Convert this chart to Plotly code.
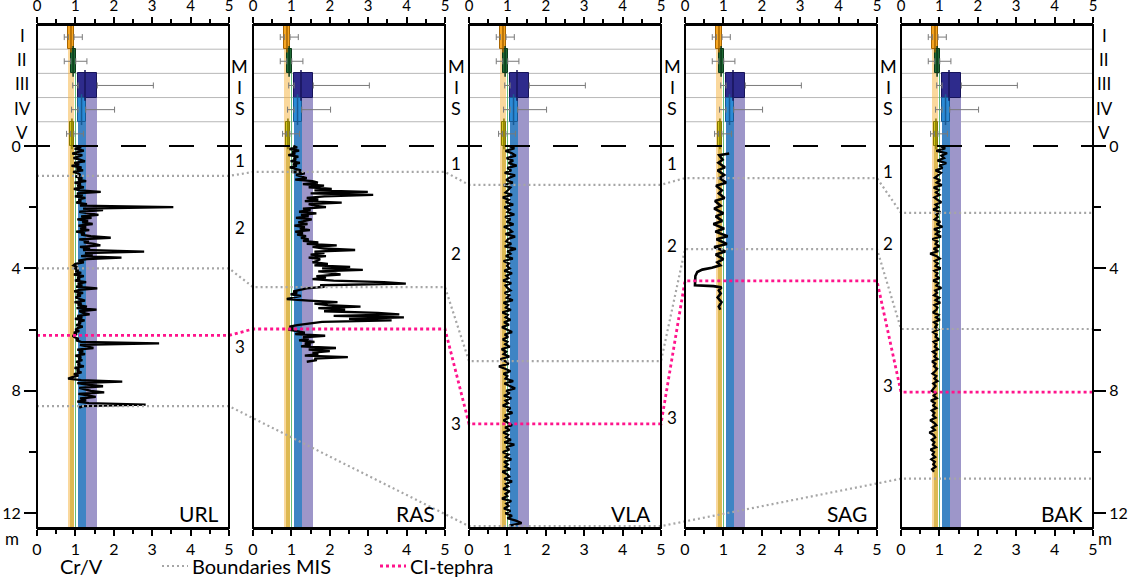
import numpy as np
import plotly.graph_objects as go

# ---------------- data ----------------
sites = ['URL', 'RAS', 'VLA', 'SAG', 'BAK']
groups = ['I', 'II', 'III', 'IV', 'V']

# Cr/V summary of the reference groups (box rows on top)
grp_q1 = [0.815, 0.88, 1.07, 1.07, 0.87]
grp_med = [0.885, 0.94, 1.25, 1.16, 0.91]
grp_q3 = [0.965, 1.01, 1.57, 1.27, 0.96]
grp_min = [0.71, 0.71, 0.93, 0.90, 0.77]
grp_max = [1.18, 1.30, 3.03, 2.02, 1.21]

# Cr/V profiles (regular sampling from 0 m)
url_step = 0.05
url_crv = [1.02, 1.15, 0.98, 1.22, 1.05, 0.92, 1.18, 1.08, 0.95, 1.12,
           1.25, 0.97, 1.10, 0.90, 1.16, 1.03, 1.20, 0.94, 1.08, 1.13,
           1.00, 1.18, 1.07, 1.28, 0.98, 1.14, 1.05, 1.22, 0.96, 1.11,
           1.66, 1.04, 1.19, 0.99, 1.26, 1.08, 1.15, 1.02, 1.30, 1.12,
           3.55, 1.20, 1.72, 1.10, 1.38, 1.60, 1.15, 1.42, 1.05, 1.33,
           1.18, 1.45, 1.08, 1.28, 1.12, 1.36, 1.02, 1.24, 1.15, 1.40,
           1.92, 1.10, 1.35, 1.22, 1.48, 1.65, 1.12, 1.38, 1.20, 2.79,
           1.25, 1.45, 1.15, 2.20, 1.30, 1.08, 1.22, 1.00, 0.95, 1.05,
           0.98, 1.08, 1.00, 1.15, 0.96, 1.22, 1.05, 1.12, 0.99, 1.28,
           1.06, 1.18, 1.02, 1.57, 1.10, 0.97, 1.20, 1.04, 1.14, 1.00,
           1.12, 1.25, 0.98, 1.16, 1.06, 1.30, 1.03, 1.55, 1.10, 1.20,
           1.37, 1.05, 1.18, 0.99, 1.24, 1.08, 1.14, 1.02, 1.19, 1.06,
           1.00, 1.10, 0.96, 1.04, 0.93, 0.98, 1.08, 1.02, 1.15, 3.18,
           1.12, 1.28, 1.47, 1.05, 1.20, 1.10, 1.25, 1.00, 1.15, 1.08,
           1.18, 1.02, 1.12, 1.06, 1.22, 0.98, 1.10, 1.04, 1.16, 0.96,
           1.08, 0.92, 0.81, 1.15, 2.22, 1.05, 1.30, 1.72, 1.10, 1.25,
           1.40, 1.75, 1.08, 1.32, 1.53, 1.12, 1.28, 1.05, 1.35, 2.83,
           1.20, 1.10]

ras_step = 0.05
ras_crv = [1.05, 1.15, 0.95, 1.20, 1.02, 1.10, 0.92, 1.18, 1.06, 1.12,
           0.98, 1.22, 1.04, 1.14, 0.96, 1.08, 1.25, 1.00, 1.35, 1.12,
           1.28, 1.40, 1.10, 1.55, 1.69, 1.30, 1.85, 1.45, 2.05, 1.60,
           2.99, 1.50, 3.13, 1.86, 1.40, 1.70, 1.35, 2.31, 1.45, 1.60,
           1.90, 1.30, 1.50, 1.20, 1.65, 1.25, 1.45, 1.12, 1.53, 1.30,
           1.18, 1.42, 1.08, 1.35, 1.22, 1.48, 1.10, 1.30, 1.15, 1.38,
           1.25, 1.45, 1.30, 1.70, 1.40, 2.18, 1.55, 1.85, 2.66, 1.60,
           1.86, 1.50, 1.90, 1.45, 1.75, 1.67, 1.55, 1.95, 1.60, 2.53,
           1.80, 2.86, 1.70, 2.05, 2.28, 1.65, 1.90, 1.55, 2.10, 3.41,
           3.98, 1.75, 1.86, 1.40, 1.20, 1.05, 1.15, 0.98, 1.25, 1.10,
           0.88, 1.45, 2.20, 1.60, 1.95, 2.80, 1.70, 2.40, 1.85, 3.25,
           3.81, 2.10, 3.93, 2.50, 3.61, 1.80, 1.40, 1.15, 0.95, 1.05,
           0.92, 1.20, 1.35, 1.10, 1.88, 1.30, 1.45, 1.20, 1.60, 1.35,
           1.50, 1.25, 2.16, 1.45, 2.00, 1.55, 1.70, 1.35, 2.47, 1.60,
           1.66, 1.40]

vla_step = 0.08
vla_crv = [1.05, 1.18, 0.95, 1.12, 1.22, 0.98, 1.15, 1.03, 1.24, 1.00,
           1.10, 0.93, 1.20, 1.05, 0.97, 1.14, 0.90, 1.08, 1.02, 0.95,
           1.12, 0.88, 1.04, 0.96, 1.15, 0.92, 1.06, 1.00, 1.18, 0.94,
           1.08, 0.98, 1.16, 0.91, 1.05, 1.12, 0.95, 1.20, 1.02, 0.97,
           1.10, 0.93, 1.22, 1.00, 1.08, 0.96, 1.14, 0.90, 1.04, 0.99,
           1.06, 0.92, 1.12, 0.97, 1.03, 0.89, 1.10, 0.95, 1.00, 1.08,
           0.93, 1.05, 0.98, 1.14, 0.90, 1.02, 0.96, 1.09, 0.87, 1.01,
           0.95, 1.08, 0.91, 1.04, 0.86, 0.99, 1.12, 0.93, 1.02, 0.88,
           1.00, 0.94, 1.06, 0.85, 0.97, 0.90, 1.05, 0.82, 0.96, 1.03,
           0.78, 0.94, 1.08, 0.90, 1.00, 0.95, 1.15, 0.92, 1.04, 1.20,
           0.97, 1.06, 0.91, 1.10, 0.95, 1.02, 0.88, 1.08, 0.99, 1.13,
           0.93, 1.04, 0.90, 1.00, 1.12, 0.94, 1.06, 0.89, 1.02, 0.96,
           1.09, 0.92, 1.18, 0.97, 1.05, 0.88, 1.03, 0.95, 1.10, 0.91,
           1.01, 0.94, 1.08, 0.87, 0.99, 1.05, 0.92, 1.12, 0.96, 1.02,
           0.89, 1.06, 0.95, 1.00, 0.86, 1.10, 0.97, 1.03, 0.91, 1.08,
           0.95, 1.12, 1.00, 1.22, 1.37, 1.05]

bak_step = 0.08
bak_crv = [1.02, 1.15, 0.92, 1.20, 1.05, 1.12, 0.95, 1.18, 1.00, 1.08,
           0.90, 1.04, 0.96, 0.88, 1.02, 0.93, 1.06, 0.85, 0.98, 0.91,
           1.00, 0.87, 0.95, 1.05, 0.90, 0.97, 0.84, 1.03, 0.92, 0.96,
           0.88, 1.02, 0.93, 1.08, 0.86, 0.99, 0.91, 1.04, 0.82, 0.95,
           0.90, 1.00, 0.85, 0.97, 0.76, 0.93, 1.01, 0.88, 0.96, 0.90,
           1.03, 0.87, 0.95, 0.91, 1.00, 0.84, 0.97, 0.92, 1.05, 0.89,
           0.94, 0.86, 0.99, 0.90, 1.02, 0.87, 0.95, 0.92, 0.83, 0.98,
           0.91, 1.01, 0.86, 0.94, 0.89, 0.97, 0.84, 0.93, 0.90, 0.99,
           0.85, 0.92, 0.88, 0.96, 0.83, 0.91, 0.87, 0.95, 0.81, 0.90,
           0.86, 0.94, 0.89, 0.82, 0.92, 0.87, 0.95, 0.84, 0.90, 0.86,
           0.80, 0.91, 0.85, 0.93, 0.78, 0.88, 0.84, 0.92, 0.80, 0.87,
           0.83, 0.90, 0.76, 0.86, 0.92, 0.81, 0.88, 0.74, 0.85, 0.89,
           0.80, 0.87, 0.83, 0.91, 0.77, 0.86, 0.82, 0.89, 0.79, 0.88,
           0.84, 0.90, 0.81, 0.86]

# SAG is sampled irregularly
sag_depth = [0.25, 0.30, 0.45, 0.55, 0.70, 0.80, 0.95, 1.05, 1.20, 1.30,
             1.45, 1.55, 1.70, 1.80, 1.95, 2.05, 2.20, 2.30, 2.45, 2.55,
             2.70, 2.80, 2.95, 3.05, 3.20, 3.30, 3.45, 3.55, 3.70, 3.80,
             3.90, 3.98, 4.04, 4.12, 4.25, 4.40, 4.55, 4.58, 4.62, 4.72,
             4.82, 4.95, 5.10, 5.25, 5.35]
sag_crv = [1.15, 0.89, 0.98, 0.87, 1.04, 0.85, 1.02, 0.90, 1.07, 0.81,
           0.96, 0.88, 1.03, 0.78, 0.93, 0.76, 1.00, 0.80, 0.97, 0.74,
           1.02, 0.79, 1.11, 0.82, 1.09, 0.76, 1.05, 0.80, 1.00, 0.84,
           0.92, 0.70, 0.45, 0.32, 0.27, 0.26, 0.26, 0.74, 0.95, 0.88,
           0.93, 0.85, 0.95, 0.88, 0.92]

# boundaries per site (m), None = not reached
mis_12 = [0.98, 0.85, 1.27, 1.05, 2.19]
mis_23 = [4.00, 4.61, 7.03, 3.37, 5.98]
mis_34 = [8.50, None, 12.42, None, 10.87]
ci_tephra = [6.19, 5.98, 9.08, 4.41, 8.04]

# MIS stage numbers written in the gap right of each site
mis_names = ['1', '2', '3']
mis_lab_depth = [[0.49, 2.65, 6.54], [0.56, 3.50, 9.08],
                 [0.59, 3.24, 8.86], [0.85, 3.20, 7.84]]

# ---------------- geometry / style ----------------
W, H = 1128, 578
SL, SR, ST, SB = 20, 1113, 25, 528       # plot area in page pixels
ML, MR, MT, MB = SL, W - SR, ST, H - SB
PW, PH = SR - SL, SB - ST
P0, PANEL, GAP = 37, 192, 24              # first panel left, panel width, gap
UNIT = PANEL / 5.0                        # px per Cr/V unit
Y_TOP, Y_BOT = -3.95, 12.48
FONT = 'Lato'

def px_x(p):
    return (p - SL) / PW

def px_y(p):
    return (SB - p) / PH

def label(text, x, y, size, xref='paper', yref='y', xanchor='center'):
    return dict(text=text, x=x, y=y, xref=xref, yref=yref, xanchor=xanchor,
                yanchor='middle', showarrow=False, font=dict(size=size, color='black'))

row_h = -Y_TOP / len(groups)
row_c = [Y_TOP + row_h * (i + 0.5) for i in range(len(groups))]
row_end = [Y_TOP + row_h * (i + 1) for i in range(len(groups))]

box_fill = ['#f6a623', '#1f6b35', '#2e2b8c', '#2b8ad6', '#d2c41c']
box_line = ['#a86500', '#0d3a1b', '#17145a', '#185a94', '#857800']
band_col = ['rgba(245,178,60,0.5)', 'rgba(70,175,95,0.85)', '#9d96c9',
            '#3e84c4', 'rgba(196,158,20,0.55)']

profiles = [
    (np.arange(len(url_crv)) * url_step, url_crv),
    (np.arange(len(ras_crv)) * ras_step, ras_crv),
    (np.arange(len(vla_crv)) * vla_step, vla_crv),
    (np.array(sag_depth), sag_crv),
    (np.arange(len(bak_crv)) * bak_step, bak_crv),
]

fig = go.Figure()
shapes = []
annotations = []
layout = {}

for k, site in enumerate(sites):
    xa = 'x' if k == 0 else 'x%d' % (k + 1)
    # vertical bands continuing the group IQRs downwards
    for g in [0, 4, 1, 2, 3]:
        if g == 1:
            base, length = grp_q3[g] - 0.025, 0.025
        else:
            base, length = grp_q1[g], grp_q3[g] - grp_q1[g]
        fig.add_trace(go.Bar(orientation='h', base=[base], x=[length],
                             y=[(row_end[g] + Y_BOT) / 2], width=[Y_BOT - row_end[g]],
                             marker=dict(color=band_col[g], line_width=0),
                             xaxis=xa, yaxis='y', showlegend=False, hoverinfo='skip'))
    # boxes
    fig.add_trace(go.Bar(orientation='h', base=grp_q1,
                         x=[b - a for a, b in zip(grp_q1, grp_q3)], y=row_c, width=row_h,
                         marker=dict(color=box_fill, line=dict(color=box_line, width=1)),
                         xaxis=xa, yaxis='y', showlegend=False, hoverinfo='skip'))
    # whiskers
    fig.add_trace(go.Scatter(x=grp_q1, y=row_c, mode='markers', marker=dict(opacity=0),
                             error_x=dict(type='data', symmetric=False, array=[0] * 5,
                                          arrayminus=[a - m for a, m in zip(grp_q1, grp_min)],
                                          color='#7a7a7a', thickness=1, width=3),
                             xaxis=xa, yaxis='y', showlegend=False, hoverinfo='skip'))
    fig.add_trace(go.Scatter(x=grp_q3, y=row_c, mode='markers', marker=dict(opacity=0),
                             error_x=dict(type='data', symmetric=False, arrayminus=[0] * 5,
                                          array=[m - b for b, m in zip(grp_q3, grp_max)],
                                          color='#7a7a7a', thickness=1, width=3),
                             xaxis=xa, yaxis='y', showlegend=False, hoverinfo='skip'))
    # medians
    fig.add_trace(go.Scatter(x=grp_med, y=row_c, mode='markers',
                             marker=dict(symbol='line-ns', size=22,
                                         line=dict(color=box_line, width=1.5)),
                             xaxis=xa, yaxis='y', showlegend=False, hoverinfo='skip'))
    # Cr/V profile
    d, v = profiles[k]
    fig.add_trace(go.Scatter(x=v, y=d, mode='lines',
                             line=dict(color='black', width=2.6 if site == 'SAG' else 2.3),
                             xaxis=xa, yaxis='y', showlegend=False))
    # empty trace for the top axis
    fig.add_trace(go.Scatter(x=[None], y=[None], xaxis='x%d' % (k + 6), yaxis='y',
                             showlegend=False, hoverinfo='skip'))

    left = P0 + k * (PANEL + GAP)
    common = dict(range=[0, 5], tick0=0, dtick=1, ticks='outside', ticklen=6,
                  tickwidth=1.5, tickcolor='black',
                  minor=dict(dtick=0.5, ticks='outside', ticklen=4, tickwidth=1.5,
                             tickcolor='black'),
                  showline=True, linecolor='black', linewidth=2, showgrid=False,
                  zeroline=False, fixedrange=True, automargin=False)
    layout['xaxis' if k == 0 else 'xaxis%d' % (k + 1)] = dict(
        domain=[px_x(left), px_x(left + PANEL)], anchor='y', side='bottom',
        tickfont=dict(size=16, color='black'), **common)
    layout['xaxis%d' % (k + 6)] = dict(overlaying=xa, anchor='y', side='top',
                                       tickfont=dict(size=15, color='black'), **common)

    # frame and group separators
    shapes.append(dict(type='rect', xref=xa + ' domain', yref='y domain', x0=0, x1=1,
                       y0=0, y1=1, line=dict(color='black', width=2), layer='above'))
    for yy in row_end[:-1]:
        shapes.append(dict(type='line', xref=xa + ' domain', yref='y', x0=0, x1=1,
                           y0=yy, y1=yy, line=dict(color='#b8b8b8', width=1), layer='below'))
    annotations.append(label(site, 0.96, 12.02, 21, xref=xa + ' domain', xanchor='right'))
    if k < 4:
        gx = px_x(left + PANEL + 11)
        for t, yy in zip(['M', 'I', 'S'], [-2.62, -1.94, -1.25]):
            annotations.append(label(t, gx, yy, 18))
        for t, yy in zip(mis_names, mis_lab_depth[k]):
            annotations.append(label(t, gx, yy, 17))

# whole-width helper axis (Cr/V units of the first panel)
step = (PANEL + GAP) / UNIT
gx0, gx1 = (SL - P0) / UNIT, (SR - P0) / UNIT
layout['xaxis11'] = dict(domain=[0, 1], range=[gx0, gx1], anchor='y', visible=False,
                         fixedrange=True, automargin=False)


def polyline(depths):
    xs, ys = [], []
    for k, dd in enumerate(depths):
        if dd is None:
            continue
        xs += [k * step, k * step + 5]
        ys += [dd, dd]
    return xs, ys


for b in [mis_12, mis_23, mis_34]:
    xs, ys = polyline(b)
    fig.add_trace(go.Scatter(x=xs, y=ys, mode='lines', xaxis='x11', yaxis='y',
                             line=dict(color='#a6a6a6', width=2.2, dash='2px,3px'),
                             showlegend=False, hoverinfo='skip'))
xs, ys = polyline(ci_tephra)
fig.add_trace(go.Scatter(x=xs, y=ys, mode='lines', xaxis='x11', yaxis='y',
                         line=dict(color='#ff148c', width=2.8, dash='3px,3px'),
                         showlegend=False, hoverinfo='skip'))
# top of the profiles (0 m)
fig.add_trace(go.Scatter(x=[(25 - P0) / UNIT, (1110 - P0) / UNIT], y=[0, 0], mode='lines',
                         xaxis='x11', yaxis='y',
                         line=dict(color='black', width=2, dash='25px,23px'),
                         showlegend=False, hoverinfo='skip'))

# depth axes
yax = dict(range=[Y_BOT, Y_TOP], tickmode='array', tickvals=[0, 4, 8, 12],
           ticks='outside', ticklen=12, tickwidth=1.5, tickcolor='black',
           minor=dict(tickmode='array', tickvals=[2, 6, 10], ticks='outside', ticklen=7,
                      tickwidth=1.5, tickcolor='black'),
           showline=False, showgrid=False, zeroline=False,
           tickfont=dict(size=16, color='black'), fixedrange=True, automargin=False)
layout['yaxis'] = dict(domain=[0, 1], anchor='x', side='left', **yax)
layout['yaxis2'] = dict(overlaying='y', anchor='x5', side='right', **yax)
fig.add_trace(go.Scatter(x=[None], y=[None], xaxis='x5', yaxis='y2',
                         showlegend=False, hoverinfo='skip'))

# group labels left and right
for t, yy in zip(groups, row_c):
    annotations.append(label(t, px_x(22), yy - 0.05, 17))
    annotations.append(label(t, px_x(1104), yy - 0.05, 17))
annotations.append(label('m', px_x(12), px_y(538), 17, yref='paper'))
annotations.append(label('m', px_x(1105), px_y(538), 17, yref='paper'))

# legend row
ly = px_y(566)
annotations.append(label('Cr/V', px_x(81), ly, 20, yref='paper'))
shapes.append(dict(type='line', xref='paper', yref='paper', x0=px_x(162), x1=px_x(188),
                   y0=ly, y1=ly, line=dict(color='#a6a6a6', width=2.2, dash='2px,3px')))
annotations.append(label('Boundaries MIS', px_x(190), ly, 20, yref='paper', xanchor='left'))
shapes.append(dict(type='line', xref='paper', yref='paper', x0=px_x(380), x1=px_x(406),
                   y0=ly, y1=ly, line=dict(color='#ff148c', width=2.8, dash='3px,3px')))
annotations.append(label('CI-tephra', px_x(408), ly, 20, yref='paper', xanchor='left'))

fig.update_layout(
    width=W, height=H,
    margin=dict(l=ML, r=MR, t=MT, b=MB, autoexpand=False),
    paper_bgcolor='white', plot_bgcolor='rgba(0,0,0,0)',
    barmode='overlay', bargap=0,
    font=dict(family=FONT, color='black'),
    showlegend=False,
    shapes=shapes, annotations=annotations,
    **layout,
)

# the page body has a default 8px margin; drop it so the figure fills the window
fig.write_html("out.html", config={'displayModeBar': False},
               post_script="document.body.style.margin = '0px';")
